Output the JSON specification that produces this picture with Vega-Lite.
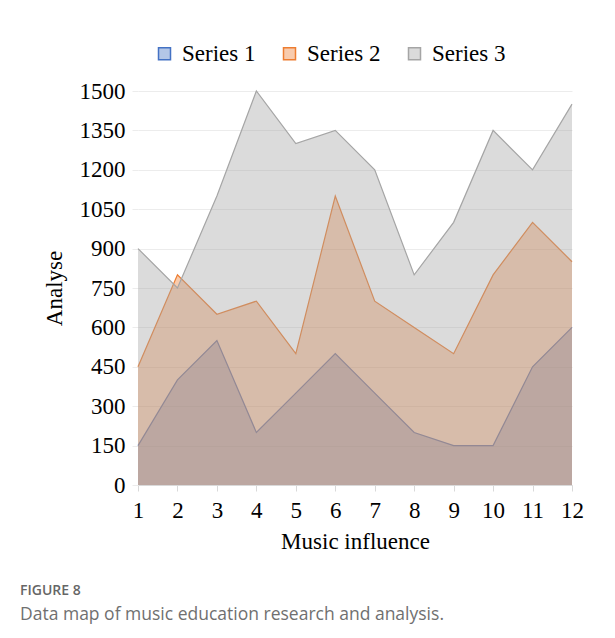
{
  "$schema": "https://vega.github.io/schema/vega-lite/v6.json",
  "autosize": {"type": "none"},
  "padding": {"left": 138, "top": 91, "right": 43, "bottom": 153},
  "width": 434,
  "height": 394,
  "background": "white",
  "title": {
    "text": "FIGURE 8",
    "subtitle": "Data map of music education research and analysis.",
    "orient": "bottom",
    "anchor": "start",
    "frame": "group",
    "dx": -118,
    "offset": 31,
    "font": "Open Sans",
    "fontSize": 14,
    "fontWeight": 600,
    "color": "#666666",
    "subtitleFont": "Open Sans",
    "subtitleFontSize": 17.5,
    "subtitleFontWeight": "normal",
    "subtitleColor": "#707070",
    "subtitlePadding": 8
  },
  "data": {
    "values": [
      {"x": 1, "series": "Series 1", "value": 150},
      {"x": 2, "series": "Series 1", "value": 400},
      {"x": 3, "series": "Series 1", "value": 550},
      {"x": 4, "series": "Series 1", "value": 200},
      {"x": 5, "series": "Series 1", "value": 350},
      {"x": 6, "series": "Series 1", "value": 500},
      {"x": 7, "series": "Series 1", "value": 350},
      {"x": 8, "series": "Series 1", "value": 200},
      {"x": 9, "series": "Series 1", "value": 150},
      {"x": 10, "series": "Series 1", "value": 150},
      {"x": 11, "series": "Series 1", "value": 450},
      {"x": 12, "series": "Series 1", "value": 600},
      {"x": 1, "series": "Series 2", "value": 450},
      {"x": 2, "series": "Series 2", "value": 800},
      {"x": 3, "series": "Series 2", "value": 650},
      {"x": 4, "series": "Series 2", "value": 700},
      {"x": 5, "series": "Series 2", "value": 500},
      {"x": 6, "series": "Series 2", "value": 1100},
      {"x": 7, "series": "Series 2", "value": 700},
      {"x": 8, "series": "Series 2", "value": 600},
      {"x": 9, "series": "Series 2", "value": 500},
      {"x": 10, "series": "Series 2", "value": 800},
      {"x": 11, "series": "Series 2", "value": 1000},
      {"x": 12, "series": "Series 2", "value": 850},
      {"x": 1, "series": "Series 3", "value": 900},
      {"x": 2, "series": "Series 3", "value": 750},
      {"x": 3, "series": "Series 3", "value": 1100},
      {"x": 4, "series": "Series 3", "value": 1500},
      {"x": 5, "series": "Series 3", "value": 1300},
      {"x": 6, "series": "Series 3", "value": 1350},
      {"x": 7, "series": "Series 3", "value": 1200},
      {"x": 8, "series": "Series 3", "value": 800},
      {"x": 9, "series": "Series 3", "value": 1000},
      {"x": 10, "series": "Series 3", "value": 1350},
      {"x": 11, "series": "Series 3", "value": 1200},
      {"x": 12, "series": "Series 3", "value": 1450}
    ]
  },
  "encoding": {
    "x": {
      "field": "x",
      "type": "ordinal",
      "scale": {"type": "point", "padding": 0},
      "axis": {
        "title": "Music influence",
        "labelAngle": 0,
        "grid": false,
        "labelFont": "Liberation Serif",
        "labelFontSize": 23,
        "titleFont": "Liberation Serif",
        "titleFontSize": 23,
        "domainColor": "#d9d9d9",
        "tickColor": "#d9d9d9",
        "tickSize": 6,
        "labelPadding": 8,
        "titlePadding": 8
      }
    },
    "y": {
      "field": "value",
      "type": "quantitative",
      "scale": {"domain": [0, 1500], "nice": false},
      "axis": {
        "title": "Analyse",
        "format": "d",
        "values": [0, 150, 300, 450, 600, 750, 900, 1050, 1200, 1350, 1500],
        "labelFont": "Liberation Serif",
        "labelFontSize": 23,
        "titleFont": "Liberation Serif",
        "titleFontSize": 23,
        "domain": false,
        "gridColor": "#ececec",
        "tickColor": "#ececec",
        "tickSize": 6,
        "labelPadding": 7,
        "titlePadding": 13
      }
    },
    "color": {
      "field": "series",
      "type": "nominal",
      "scale": {
        "domain": ["Series 1", "Series 2", "Series 3"],
        "range": ["#4472C4", "#ED7D31", "#A5A5A5"]
      },
      "legend": {
        "title": null,
        "orient": "none",
        "direction": "horizontal",
        "legendX": 15,
        "legendY": -49,
        "symbolType": "square",
        "symbolSize": 144,
        "labelOffset": 6,
        "columnPadding": 22,
        "labelFont": "Liberation Serif",
        "labelFontSize": 23,
        "encode": {
          "symbols": {
            "update": {
              "fill": {"scale": "color", "field": "value"},
              "fillOpacity": {"value": 0.4},
              "stroke": {"scale": "color", "field": "value"},
              "strokeWidth": {"value": 1.5},
              "opacity": {"value": 1}
            }
          }
        }
      }
    }
  },
  "layer": [
    {"transform": [{"filter": "datum.series === 'Series 1'"}], "mark": {"type": "area", "opacity": 0.4}},
    {"transform": [{"filter": "datum.series === 'Series 1'"}], "mark": {"type": "line", "strokeWidth": 1.2}},
    {"transform": [{"filter": "datum.series === 'Series 2'"}], "mark": {"type": "area", "opacity": 0.4}},
    {"transform": [{"filter": "datum.series === 'Series 2'"}], "mark": {"type": "line", "strokeWidth": 1.2}},
    {"transform": [{"filter": "datum.series === 'Series 3'"}], "mark": {"type": "area", "opacity": 0.4}},
    {"transform": [{"filter": "datum.series === 'Series 3'"}], "mark": {"type": "line", "strokeWidth": 1.2}}
  ],
  "config": {
    "font": "Liberation Serif",
    "view": {"stroke": null},
    "axis": {
      "labelFont": "Liberation Serif",
      "labelFontSize": 23,
      "labelColor": "#000000",
      "titleFont": "Liberation Serif",
      "titleFontSize": 23,
      "titleFontWeight": "normal",
      "titleColor": "#000000"
    },
    "legend": {
      "labelFont": "Liberation Serif",
      "labelFontSize": 23,
      "labelColor": "#000000",
      "labelLimit": 0
    }
  }
}
